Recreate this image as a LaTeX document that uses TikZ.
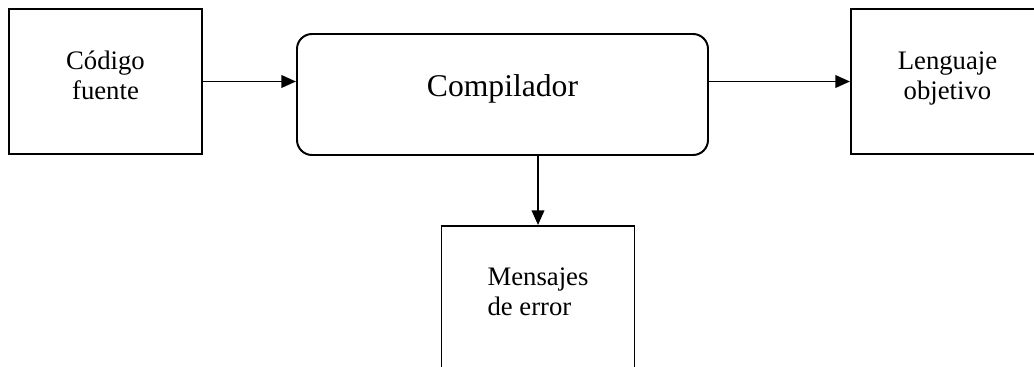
\documentclass[tikz,border=0pt]{standalone}
\usepackage{fontspec}
\setmainfont{Liberation Serif}
\usetikzlibrary{arrows.meta}

\begin{document}
\begin{tikzpicture}[line width=1.4pt,>={Triangle[length=10.5pt,width=9pt]},
  caja/.style={draw,rectangle,minimum width=4.825cm,minimum height=3.625cm,inner sep=0pt,
    text depth=0.3cm,font=\fontsize{19}{21.3}\selectfont},
  proceso/.style={draw,rectangle,rounded corners=0.375cm,minimum width=10.275cm,
    minimum height=3.025cm,inner sep=0pt,font=\fontsize{22.5}{24}\selectfont}]
\clip (0,0) rectangle (25.85,-9.175);

\node[caja,align=center] (codigo) at (2.6375,-2.0375) {Código\\fuente};
\node[proceso,text depth=0.45cm] (compilador) at (12.5625,-2.3625) {Compilador};
\node[caja,align=center] (objetivo) at (23.6875,-2.0375) {Lenguaje\\objetivo};
\node[caja,align=left,text depth=0.35cm] (errores) at (13.45,-7.4625) {Mensajes\\de error};

\draw[->] (codigo.east) -- (codigo.east -| compilador.west);
\draw[->] (compilador.east |- objetivo.west) -- (objetivo.west);
\draw[->] (errores.north |- compilador.south) -- (errores.north);
\end{tikzpicture}
\end{document}
